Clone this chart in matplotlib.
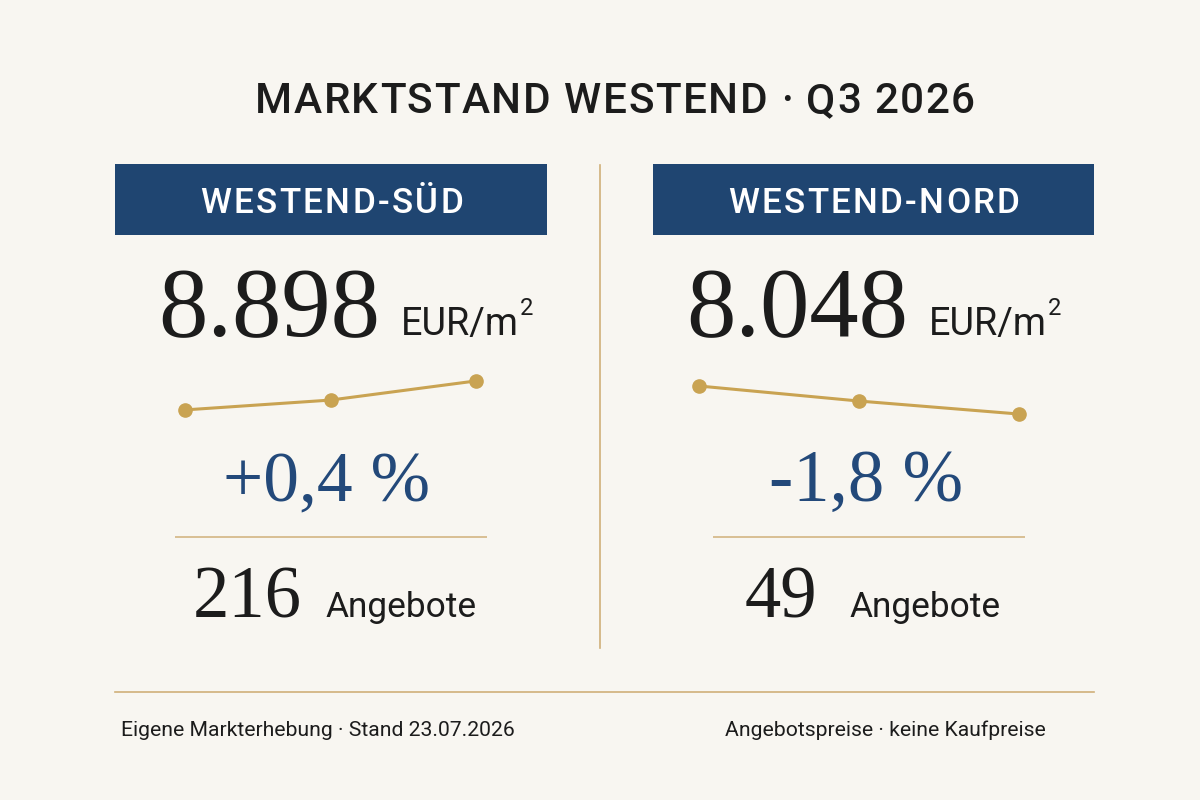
import matplotlib
matplotlib.use("Agg")
import matplotlib.pyplot as plt
from matplotlib.font_manager import FontProperties
from matplotlib.patches import Rectangle

# ---------------- data ----------------
title = "MARKTSTAND WESTEND · Q3 2026"
districts = ["WESTEND-SÜD", "WESTEND-NORD"]
prices = [8898, 8048]                      # EUR/m²
price_unit = "EUR/m"
changes = ["+0,4 %", "-1,8 %"]
offers = [216, 49]
offers_label = "Angebote"
trend_quarters = ["Q1", "Q2", "Q3"]
trend_sued = [8.845, 8.863, 8.898]         # Tsd. EUR/m²
trend_nord = [8.365, 8.195, 8.048]
footer_left = "Eigene Markterhebung · Stand 23.07.2026"
footer_right = "Angebotspreise · keine Kaufpreise"

# ---------------- style ----------------
BG = "#f8f6f1"
NAVY = "#1f4571"
BLUE_TXT = "#23497a"
GOLD = "#c9a352"
GOLD_LINE = "#d0b079"
INK = "#1c1c1c"

SANS = ["Roboto", "DejaVu Sans"]
SERIF = ["Liberation Serif", "DejaVu Serif"]

W, H = 1200, 800
fig = plt.figure(figsize=(12, 8), dpi=100)
fig.patch.set_facecolor(BG)
ax = fig.add_axes([0, 0, 1, 1])
ax.set_xlim(0, W)
ax.set_ylim(H, 0)
ax.set_facecolor("none")
ax.axis("off")
R = fig.canvas.get_renderer()


def fp(family, size, weight="normal"):
    return FontProperties(family=family, size=size, weight=weight)


def tw(s, prop):
    return R.get_text_width_height_descent(s, prop, ismath=False)


def size_for_width(s, family, width, weight="normal"):
    return 100.0 * width / tw(s, fp(family, 100, weight))[0]


def size_for_cap(family, cap, weight="normal"):
    return 100.0 * cap / tw("H", fp(family, 100, weight))[1]


def advance(s, prop):
    return tw("|" + s + "|", prop)[0] - tw("||", prop)[0]


def track_for_width(s, prop, width):
    return (width - advance(s, prop)) / (len(s) - 1)


def tracked(x, y, s, prop, track, ha="center", color=INK):
    offs = [advance(s[:i], prop) if i else 0.0 for i in range(len(s) + 1)]
    total = offs[-1] + track * (len(s) - 1)
    x0 = {"left": x, "center": x - total / 2, "right": x - total}[ha]
    for i, ch in enumerate(s):
        if ch.strip():
            ax.text(x0 + offs[i] + track * i, y, ch, fontproperties=prop,
                    color=color, ha="left", va="baseline")


def de_int(v):
    return f"{v:,}".replace(",", ".")


# ---------------- title ----------------
t_w = "medium"
t_size = size_for_cap(SANS, 31, t_w)
p_title = fp(SANS, t_size, t_w)
t_track = track_for_width(title, p_title, 720)
while t_track < 1.5:
    t_size *= 0.99
    p_title = fp(SANS, t_size, t_w)
    t_track = track_for_width(title, p_title, 720)
tracked(615, 113, title, p_title, t_track)

# ---------------- columns ----------------
cols = [
    dict(box=(115, 547), head_w=263, px=158, ux=401, pcx=223, pcw=207,
         cnx=193, alx=325, spark=(185, 476), ylim=(8.8174, 8.918)),
    dict(box=(653, 1094), head_w=291, px=686, ux=929, pcx=769, pcw=194,
         cnx=745, alx=849, spark=(699, 1019), ylim=(7.924, 8.546)),
]
trends = [trend_sued, trend_nord]

head_w = "medium"
p_head = fp(SANS, size_for_cap(SANS, 25, head_w), head_w)
p_price = fp(SERIF, size_for_width(de_int(prices[0]), SERIF, 222))
p_unit = fp(SANS, size_for_width(price_unit, SANS, 118))
p_sup = fp(SANS, size_for_cap(SANS, 17))
p_count = fp(SERIF, size_for_width(de_int(offers[0]), SERIF, 109))
p_label = fp(SANS, size_for_width(offers_label, SANS, 151))

for i, c in enumerate(cols):
    x0, x1 = c["box"]
    ax.add_patch(Rectangle((x0, 164), x1 - x0, 71, facecolor=NAVY,
                           edgecolor="none"))
    tracked((x0 + x1) / 2 + 0.5, 213, districts[i], p_head,
            track_for_width(districts[i], p_head, c["head_w"]), color="white")

    # price
    ax.text(c["px"], 336, de_int(prices[i]), fontproperties=p_price,
            color=INK, ha="left", va="baseline")
    ax.text(c["ux"], 335, price_unit, fontproperties=p_unit, color=INK,
            ha="left", va="baseline")
    ux_end = c["ux"] + tw(price_unit, p_unit)[0]
    ax.text(ux_end + 1, 315, "2", fontproperties=p_sup, color=INK,
            ha="left", va="baseline")

    # sparkline
    sx0, sx1 = c["spark"]
    sax = fig.add_axes([sx0 / W, 1 - 425 / H, (sx1 - sx0) / W, 55 / H])
    sax.plot(range(len(trend_quarters)), trends[i], color=GOLD, lw=2.2,
             marker="o", ms=9.5, clip_on=False)
    sax.set_xlim(0, len(trend_quarters) - 1)
    sax.set_ylim(*c["ylim"])
    sax.set_facecolor("none")
    sax.axis("off")

    # change
    p_pc = fp(SERIF, size_for_width(changes[i], SERIF, c["pcw"]))
    ax.text(c["pcx"], 501, changes[i], fontproperties=p_pc, color=BLUE_TXT,
            ha="left", va="baseline")

    # rule
    ax.plot([x0 + 60, x0 + 372], [537, 537], color=GOLD_LINE, lw=1.1,
            solid_capstyle="butt")

    # offers
    ax.text(c["cnx"], 617, str(offers[i]), fontproperties=p_count, color=INK,
            ha="left", va="baseline")
    ax.text(c["alx"], 617, offers_label, fontproperties=p_label, color=INK,
            ha="left", va="baseline")

# divider + footer rule
ax.plot([600, 600], [165, 648], color=GOLD_LINE, lw=1.2)
ax.plot([115, 1094], [692, 692], color=GOLD_LINE, lw=1.2)

p_foot = fp(SANS, size_for_width(footer_left, SANS, 393))
ax.text(121, 736, footer_left, fontproperties=p_foot, color=INK,
        ha="left", va="baseline")
ax.text(1046, 736, footer_right, fontproperties=p_foot, color=INK,
        ha="right", va="baseline")

fig.savefig("out.png", dpi=100, facecolor=BG)
